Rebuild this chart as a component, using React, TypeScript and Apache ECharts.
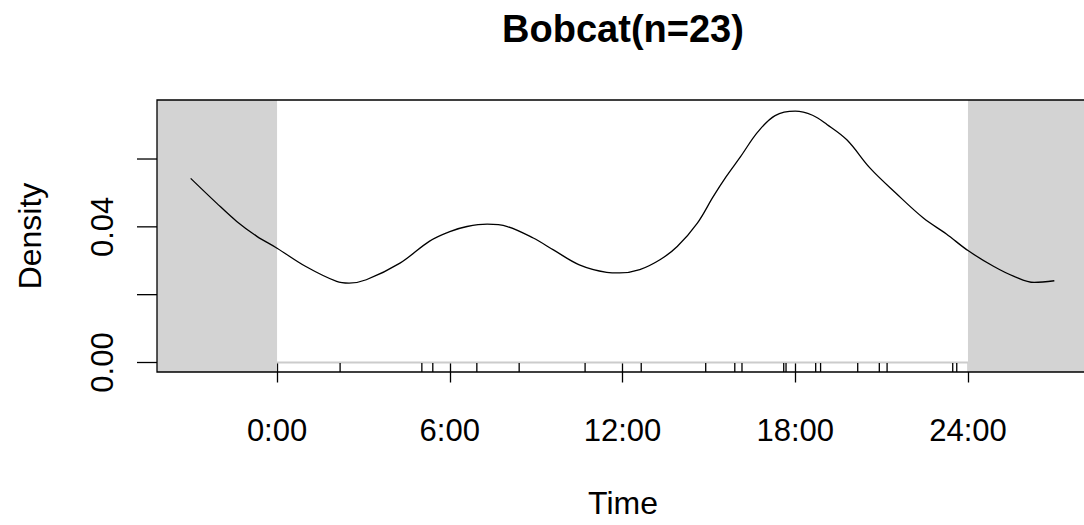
import React, { useEffect, useRef } from "react";
import * as echarts from "echarts";

const titleText = "Bobcat(n=23)";
const xName = "Time";
const yName = "Density";

// density curve: [hour, density]
const curveHours = [-3, -2.1, -1.4, -0.7, 0, 1.0, 2.07, 2.5, 3.1, 4.27, 5.3, 6.0, 6.6, 7.3, 8.0, 8.9, 9.6, 10.5, 11.45, 11.9, 12.6, 13.3, 13.9, 14.6, 15.15, 15.6, 16.1, 16.7, 17.3, 18.0, 18.6, 19.1, 19.8, 20.6, 21.5, 22.45, 23.25, 24.0, 24.9, 25.6, 26.3, 27.0];
const curveDensity = [0.0543, 0.047, 0.0416, 0.0372, 0.0337, 0.0283, 0.0239, 0.0234, 0.0244, 0.0293, 0.0358, 0.0386, 0.0401, 0.0408, 0.0401, 0.0367, 0.0332, 0.0288, 0.0266, 0.0264, 0.0274, 0.0303, 0.0342, 0.0411, 0.0489, 0.0548, 0.0607, 0.068, 0.0728, 0.0741, 0.0729, 0.0702, 0.0656, 0.0573, 0.0499, 0.0426, 0.0379, 0.033, 0.0283, 0.0254, 0.0236, 0.0241];

// detection times (rug)
const rugTimes = [2.19, 5.03, 5.41, 6.94, 8.41, 10.7, 12.65, 14.89, 15.9, 16.15, 17.6, 17.68, 18.71, 18.88, 20.17, 20.92, 21.19, 23.47, 23.61];

const xTicks = [0, 6, 12, 18, 24];
const yTicks = [0, 0.02, 0.04, 0.06];
const yLabelTicks = [0, 0.04];

// visible x-range (plot box continues slightly past the right edge)
const X_MIN = -4.17;
const X_MAX = 28.03;
const Y_MIN = -0.0028;
const Y_MAX = 0.0774;

const GRID_LEFT = 157;
const GRID_TOP = 100;
const GRID_HEIGHT = 272;
const BOX_WIDTH = 932;
const W = 1084;
const H = 525;

const FONT = "'Liberation Sans', Arial, sans-serif";

export default function App() {
  const ref = useRef<HTMLDivElement>(null);
  useEffect(() => {
    if (!ref.current) return;
    const chart = echarts.init(ref.current, null, { renderer: "svg" });
    const gridW = W - GRID_LEFT;
    chart.setOption({
      animation: false,
      backgroundColor: "#ffffff",
      grid: { left: GRID_LEFT, top: GRID_TOP, right: 0, height: GRID_HEIGHT, show: false },
      xAxis: {
        type: "value",
        min: X_MIN,
        max: X_MAX,
        splitLine: { show: false },
        axisLine: { show: false },
        axisTick: { show: true, customValues: xTicks, length: 20, lineStyle: { color: "#000", width: 1.3 } },
        axisLabel: {
          customValues: xTicks,
          formatter: (v: number) => `${v}:00`,
          fontSize: 31,
          fontFamily: FONT,
          color: "#000",
          margin: 43,
        },
      },
      yAxis: {
        type: "value",
        min: Y_MIN,
        max: Y_MAX,
        splitLine: { show: false },
        axisLine: { show: false },
        axisTick: { show: false },
        axisLabel: {
          customValues: yLabelTicks,
          formatter: (v: number) => v.toFixed(2),
          rotate: 90,
          fontSize: 31,
          fontFamily: FONT,
          color: "#000",
          margin: 39,
        },
      },
      graphic: [
        {
          type: "text",
          x: GRID_LEFT + BOX_WIDTH / 2,
          y: 29,
          style: { text: titleText, fontSize: 38, fontWeight: "bold", fontFamily: FONT, fill: "#000", textAlign: "center", textVerticalAlign: "middle" },
        },
        {
          type: "text",
          x: 623,
          y: 503,
          style: { text: xName, fontSize: 32, fontFamily: FONT, fill: "#000", textAlign: "center", textVerticalAlign: "middle" },
        },
        {
          type: "text",
          x: 30,
          y: GRID_TOP + GRID_HEIGHT / 2,
          rotation: Math.PI / 2,
          style: { text: yName, fontSize: 32, fontFamily: FONT, fill: "#000", textAlign: "center", textVerticalAlign: "middle" },
        },
        {
          type: "rect",
          z: 100,
          shape: { x: GRID_LEFT, y: GRID_TOP, width: BOX_WIDTH, height: GRID_HEIGHT },
          style: { fill: "none", stroke: "#000", lineWidth: 1.3 },
        },
      ],
      series: [
        {
          type: "line",
          data: [[0, 0], [24, 0]],
          symbol: "none",
          lineStyle: { color: "#cccccc", width: 2 },
          silent: true,
          markArea: {
            silent: true,
            itemStyle: { color: "#d3d3d3" },
            data: [
              [{ xAxis: X_MIN }, { xAxis: 0 }],
              [{ xAxis: 24 }, { xAxis: X_MAX }],
            ],
          },
          z: 1,
        },
        {
          type: "line",
          data: curveHours.map((h, i) => [h, curveDensity[i]]),
          symbol: "none",
          smooth: 0.35,
          lineStyle: { color: "#000", width: 1.3 },
          z: 3,
        },
        {
          type: "custom",
          data: rugTimes.map((t) => [t, Y_MIN]),
          encode: { x: 0, y: 1 },
          z: 4,
          renderItem: (_params: any, api: any) => {
            const p = api.coord([api.value(0), api.value(1)]);
            return {
              type: "line",
              shape: { x1: p[0], y1: p[1], x2: p[0], y2: p[1] - 9 },
              style: { stroke: "#000", lineWidth: 1.3 },
            };
          },
        },
        {
          type: "custom",
          data: yTicks.map((v) => [X_MIN, v]),
          encode: { x: 0, y: 1 },
          clip: false,
          z: 4,
          renderItem: (_params: any, api: any) => {
            const p = api.coord([api.value(0), api.value(1)]);
            return {
              type: "line",
              shape: { x1: p[0] - 20, y1: p[1], x2: p[0], y2: p[1] },
              style: { stroke: "#000", lineWidth: 1.3 },
            };
          },
        },
      ],
    });
    return () => chart.dispose();
  }, []);
  return <div ref={ref} style={{ position: "absolute", left: 0, top: 0, width: W, height: H }} />;
}
